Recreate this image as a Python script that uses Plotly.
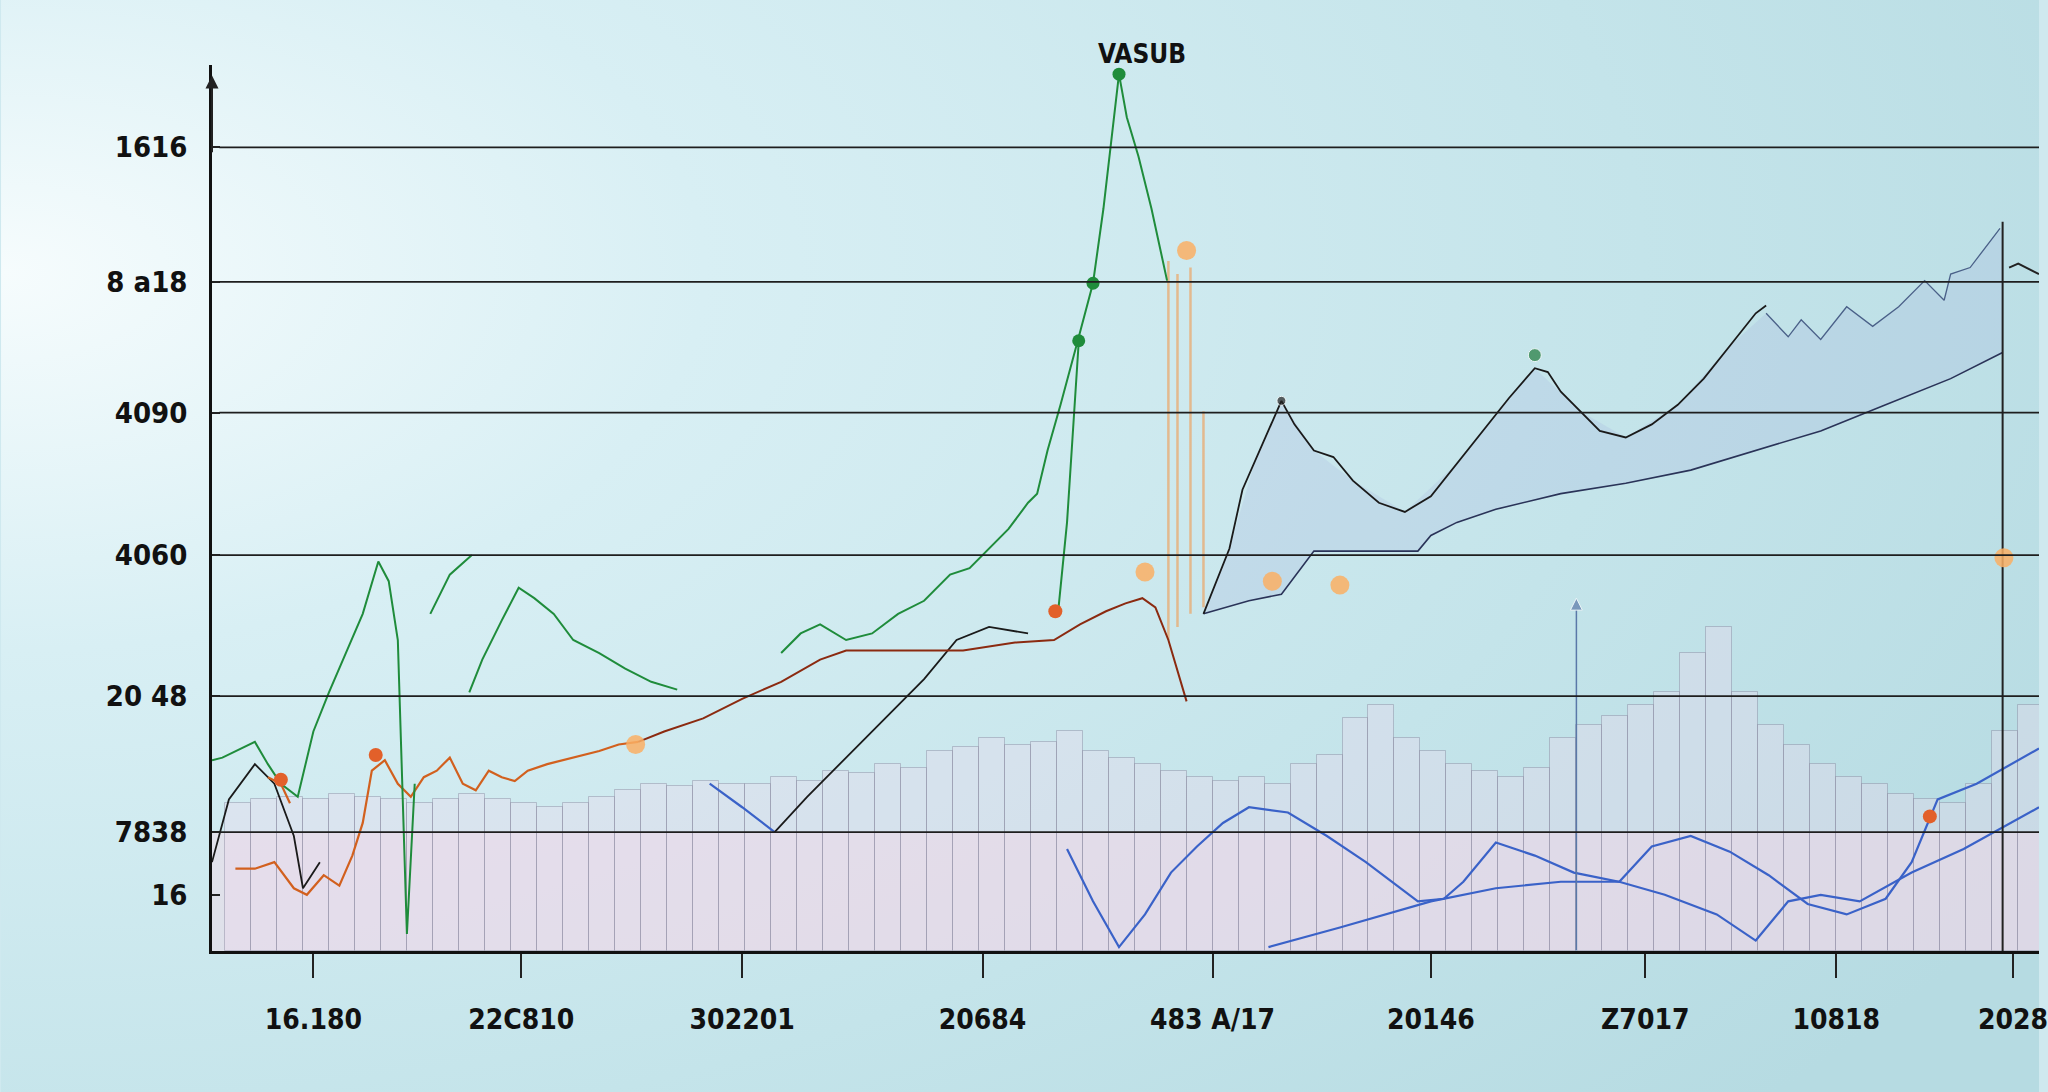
import base64
import plotly.graph_objects as go

# ---------------- data ----------------
y_tick_vals = [615, 512, 412, 303, 195, 91, 43]
y_tick_text = ["1616", "8 a18", "4090", "4060", "20 48", "7838", "16"]
x_tick_vals = [78, 238, 408, 593, 770, 938, 1103, 1250, 1386]
x_tick_text = ["16.180", "22C810", "302201", "20684", "483 A/17", "20146", "Z7017", "10818", "2028"]
title_text = "VASUB"

bar_x = list(range(20, 1420, 20))
bar_h = [113, 116, 118, 116, 120, 118, 116, 113, 116, 120,
         116, 113, 110, 113, 118, 123, 128, 126, 130, 128,
         128, 133, 130, 138, 136, 143, 140, 153, 156, 163,
         158, 160, 168, 153, 148, 143, 138, 133, 130, 133,
         128, 143, 150, 178, 188, 163, 153, 143, 138, 133,
         140, 163, 173, 180, 188, 198, 228, 248, 198, 173,
         158, 143, 133, 128, 120, 116, 113, 128, 168, 188]

green_x = [0, 8, 33, 43, 53, 66, 78, 90, 103, 116, 128, 136, 143, 150, 156, None,
           168, 183, 200, None,
           198, 208, 223, 236, 248, 263, 278, 298, 318, 338, 358, None,
           438, 453, 468, 488, 508, 528, 548, 568, 583, 598, 613, 628, 635, 643, 653, 666, 678, 686, 693, 698, 704, 713, 723, 735, None,
           651, 658, 667]
green_y = [146, 148, 160, 143, 128, 118, 168, 198, 228, 258, 298, 283, 238, 13, 128, None,
           258, 288, 303, None,
           198, 223, 253, 278, 270, 258, 238, 228, 216, 206, 200, None,
           228, 243, 250, 238, 243, 258, 268, 288, 293, 308, 323, 343, 350, 383, 418, 466, 511, 568, 628, 671, 638, 608, 568, 513, None,
           258, 328, 466]
green_mx = [698, 678, 667]
green_my = [671, 511, 467]

orange_x = [18, 33, 48, 63, 73, 86, 98, 108, 116, 123, 133, 143, 153, 163, 173, 183, 193, 203, 213, 223, 233, 243, 258, 278, 298, 313, 328, None,
            43, 53, 60]
orange_y = [63, 63, 68, 48, 43, 58, 50, 73, 98, 138, 146, 128, 118, 133, 138, 148, 128, 123, 138, 133, 130, 138, 143, 148, 153, 158, 160, None,
            133, 128, 113]

red_x = [328, 348, 378, 408, 438, 468, 488, 538, 578, 618, 648, 668, 688, 703, 716, 726, 736, 750]
red_y = [160, 168, 178, 193, 206, 223, 230, 230, 230, 236, 238, 250, 260, 266, 270, 263, 238, 191]

black_x = [0, 13, 33, 48, 63, 70, 83, None,
           433, 458, 488, 518, 548, 573, 598, 628, None,
           763, 783, 793, 803, 813, 823, 833, 848, 863, 878, 898, 918, 938, 958, 978, 998, 1018, 1028, 1038, 1053, 1068, 1088, 1108, 1128, 1148, 1168, 1188, 1196]
black_y = [68, 116, 143, 128, 88, 48, 68, None,
           91, 118, 148, 178, 208, 238, 248, 243, None,
           258, 308, 353, 376, 398, 421, 403, 383, 378, 360, 343, 336, 348, 373, 398, 423, 446, 443, 428, 413, 398, 393, 403, 418, 438, 463, 488, 494]

env_low_x = [763, 798, 823, 848, 928, 938, 958, 988, 1038, 1088, 1138, 1188, 1238, 1288, 1338, 1378]
env_low_y = [258, 268, 273, 306, 306, 318, 328, 338, 350, 358, 368, 383, 398, 418, 438, 458]
env_up_x = [763, 783, 803, 823, 848, 878, 918, 958, 998, 1018, 1053, 1088, 1128, 1168, 1196, 1213, 1223, 1238, 1258, 1278, 1298, 1318, 1333, 1338, 1353, 1368, 1378]
env_up_y = [258, 308, 376, 421, 383, 360, 336, 373, 423, 446, 413, 393, 418, 463, 488, 470, 483, 468, 493, 478, 493, 513, 498, 518, 523, 543, 553]

right_x = [1196, 1213, 1223, 1238, 1258, 1278, 1298, 1318, 1333, 1338, 1353, 1368, 1376]
right_y = [488, 470, 483, 468, 493, 478, 493, 513, 498, 518, 523, 543, 553]

blue1_x = [383, 408, 433, None,
           658, 678, 698, 718, 738, 758, 778, 798, 828, 858, 888, 928, 948, 963, 988, 1018, 1048, 1083, 1108, 1138, 1168, 1198, 1228, 1258, 1288, 1308, 1328, 1358, 1406]
blue1_y = [128, 110, 91, None,
           78, 38, 3, 28, 60, 80, 98, 110, 106, 88, 68, 38, 40, 53, 83, 73, 60, 53, 80, 88, 76, 58, 36, 28, 40, 68, 116, 128, 155]
blue2_x = [813, 868, 938, 988, 1038, 1083, 1118, 1158, 1188, 1213, 1238, 1268, 1308, 1348, 1406]
blue2_y = [3, 18, 38, 48, 53, 53, 43, 28, 8, 38, 43, 38, 60, 78, 110]

spike_x = [736, 736, None, 743, 743, None, 753, 753, None, 763, 763]
spike_y = [528, 238, None, 518, 248, None, 523, 258, None, 413, 263]

peach_x = [326, 718, 816, 868, 750, 1379]
peach_y = [158, 290, 283, 280, 536, 301]
dark_orange_x = [126, 53, 649, 1322]
dark_orange_y = [150, 131, 260, 103]
black_dot_x = [823, 1018]
black_dot_y = [421, 456]

vline_blue_x = [1050, 1050]
vline_blue_y = [0, 270]
vline_black_x = [1378, 1378, None, 1383, 1390, 1406]
vline_black_y = [0, 558, None, 523, 526, 518]

# ---------------- figure ----------------
W, H = 2048, 1092
ML, MR, MT, MB = 212, 0, 65, 141
PW, PH = W - ML - MR, H - MT - MB
narrow = "DejaVu Sans Condensed, Liberation Sans Narrow, Roboto Condensed, sans-serif"

fig = go.Figure()

fig.add_trace(go.Bar(x=bar_x, y=bar_h, width=20,
                     marker=dict(color="rgba(238,214,236,0.32)",
                                 line=dict(color="rgba(120,120,145,0.38)", width=1)),
                     hoverinfo="skip"))

fig.add_trace(go.Scatter(x=env_low_x, y=env_low_y, mode="lines",
                         line=dict(color="#2a3358", width=1.6)))
fig.add_trace(go.Scatter(x=env_up_x, y=env_up_y, mode="lines", fill="tonexty",
                         fillcolor="rgba(160,170,220,0.2)",
                         line=dict(color="rgba(0,0,0,0)", width=0)))
fig.add_trace(go.Scatter(x=right_x, y=right_y, mode="lines",
                         line=dict(color="#4a6088", width=1.3)))

fig.add_trace(go.Scatter(x=blue1_x, y=blue1_y, mode="lines",
                         line=dict(color="#3a62c8", width=2.2)))
fig.add_trace(go.Scatter(x=blue2_x, y=blue2_y, mode="lines",
                         line=dict(color="#3a62c8", width=2.2)))

fig.add_trace(go.Scatter(x=spike_x, y=spike_y, mode="lines",
                         line=dict(color="rgba(238,160,90,0.65)", width=2.5)))

fig.add_trace(go.Scatter(x=black_x, y=black_y, mode="lines",
                         line=dict(color="#1a1a1a", width=1.8)))
fig.add_trace(go.Scatter(x=orange_x, y=orange_y, mode="lines",
                         line=dict(color="#d2601e", width=2.2)))
fig.add_trace(go.Scatter(x=red_x, y=red_y, mode="lines",
                         line=dict(color="#8b2a10", width=2)))
fig.add_trace(go.Scatter(x=green_x, y=green_y, mode="lines",
                         line=dict(color="#1f8c3b", width=2)))

fig.add_trace(go.Scatter(x=vline_blue_x, y=vline_blue_y, mode="lines+markers",
                         line=dict(color="#5a78a8", width=1.5),
                         marker=dict(symbol=["line-ew", "arrow-up"], size=[1, 12], color="#5a78a8")))
fig.add_trace(go.Scatter(x=vline_black_x, y=vline_black_y, mode="lines",
                         line=dict(color="#222222", width=2)))

fig.add_trace(go.Scatter(x=green_mx, y=green_my, mode="markers",
                         marker=dict(color="#1f8c3b", size=13)))
fig.add_trace(go.Scatter(x=peach_x, y=peach_y, mode="markers",
                         marker=dict(color="rgba(250,175,100,0.85)", size=19)))
fig.add_trace(go.Scatter(x=dark_orange_x, y=dark_orange_y, mode="markers",
                         marker=dict(color="#e2602a", size=14)))
fig.add_trace(go.Scatter(x=black_dot_x, y=black_dot_y, mode="markers",
                         marker=dict(color=["#222222", "#1f7a3b"], size=[9, 13])))

shapes = [dict(type="rect", xref="paper", x0=0, x1=1, yref="y", y0=0, y1=y_tick_vals[5],
               fillcolor="rgba(246,214,228,0.45)", line=dict(width=0), layer="below")]
for v in y_tick_vals[:-1]:
    shapes.append(dict(type="line", xref="paper", x0=0.004, x1=1, yref="y", y0=v, y1=v,
                       line=dict(color="#1e1e1e", width=1.8), layer="above"))

svg = ('<svg xmlns="http://www.w3.org/2000/svg" width="2048" height="1092" preserveAspectRatio="none">'
       '<defs><radialGradient id="g" cx="0" cy="0.25" r="1.15">'
       '<stop offset="0" stop-color="#f6fcfd"/><stop offset="0.3" stop-color="#d8eff4"/>'
       '<stop offset="0.7" stop-color="#c4e4ea"/><stop offset="1" stop-color="#b6dbe2"/>'
       '</radialGradient></defs><rect width="2048" height="1092" fill="url(#g)"/></svg>')
src = "data:image/svg+xml;base64," + base64.b64encode(svg.encode()).decode()

fig.update_layout(
    width=W, height=H,
    margin=dict(l=ML, r=MR, t=MT, b=MB),
    paper_bgcolor="#cfe9ef",
    plot_bgcolor="rgba(0,0,0,0)",
    showlegend=False,
    bargap=0,
    shapes=shapes,
    images=[dict(source=src, xref="paper", yref="paper",
                 x=-ML / PW, y=1 + MT / PH, sizex=W / PW, sizey=H / PH,
                 xanchor="left", yanchor="top", sizing="stretch", layer="below")],
    xaxis=dict(range=[0, 1406], showgrid=False, zeroline=False,
               showline=True, linecolor="#111111", linewidth=2.5,
               tickmode="array", tickvals=x_tick_vals, ticktext=x_tick_text,
               ticks="outside", ticklen=24, tickwidth=1.5, tickcolor="#222222",
               ticklabelstandoff=18, ticklabeloverflow="allow",
               tickfont=dict(family=narrow, size=28, color="#111111", weight=600)),
    yaxis=dict(range=[0, 678], showgrid=False, zeroline=False,
               showline=True, linecolor="#111111", linewidth=2.5,
               tickmode="array", tickvals=y_tick_vals, ticktext=y_tick_text,
               ticks="inside", ticklen=8, tickwidth=1.5, tickcolor="#222222",
               ticklabelstandoff=16,
               tickfont=dict(family=narrow, size=29, color="#111111", weight="bold")),
    annotations=[
        dict(x=0, y=670, xref="x", yref="y", ax=0, ay=610, axref="x", ayref="y",
             showarrow=True, arrowhead=2, arrowsize=1.3, arrowwidth=2, arrowcolor="#222222", text=""),
        dict(x=716, y=1 + (MT - 37) / PH, xref="x", yref="paper", text=title_text,
             showarrow=False, font=dict(family=narrow, size=26, color="#111111", weight=600)),
    ],
)

fig.write_html("out.html", config={"displayModeBar": False},
               post_script="document.body.style.margin='0';document.body.style.overflow='hidden';")
